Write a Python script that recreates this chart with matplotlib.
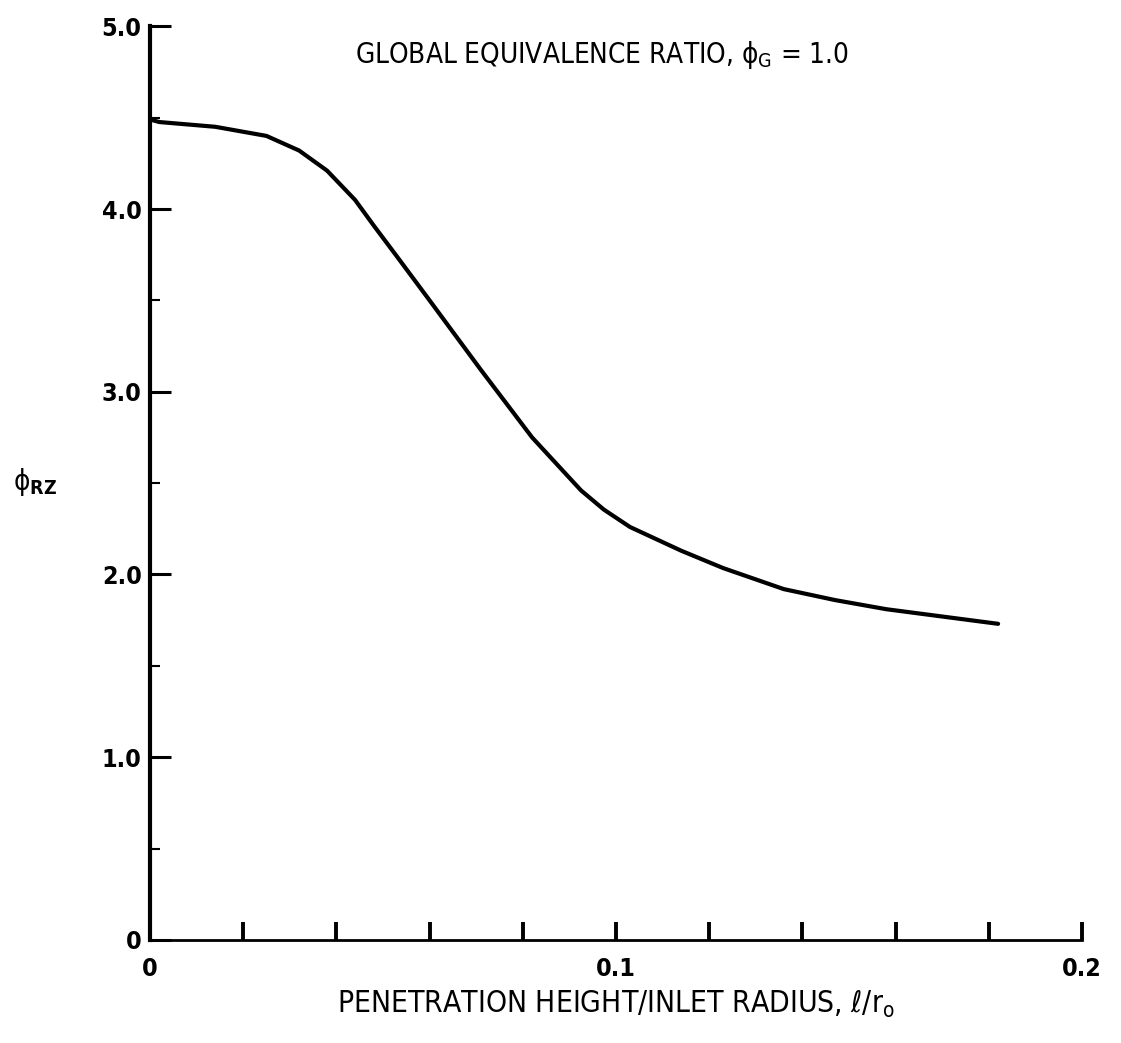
import matplotlib
matplotlib.use("Agg")
import matplotlib.pyplot as plt
from matplotlib.ticker import MultipleLocator, FixedLocator

plt.rcParams['font.family'] = ['DejaVu Sans']
plt.rcParams['font.stretch'] = 'condensed'
plt.rcParams['mathtext.fontset'] = 'dejavusans'

# Data
penetration = [0.0, 0.002, 0.014, 0.025, 0.032, 0.038, 0.044, 0.048, 0.053, 0.060, 0.071,
               0.082, 0.0925, 0.0974, 0.103, 0.114, 0.123, 0.136, 0.147, 0.158, 0.170, 0.182]
phi_rz = [4.49, 4.476, 4.45, 4.40, 4.32, 4.21, 4.05, 3.91, 3.74, 3.50, 3.12,
          2.75, 2.46, 2.355, 2.26, 2.13, 2.035, 1.92, 1.86, 1.81, 1.77, 1.73]

x_major_labels = ["0", "0.1", "0.2"]
y_major_labels = ["0", "1.0", "2.0", "3.0", "4.0", "5.0"]

fig = plt.figure(figsize=(11.21, 10.43), dpi=100)
ax = fig.add_axes([0.1338, 0.0988, 0.8314, 0.876])

ax.plot(penetration, phi_rz, color='black', linewidth=3.0,
        solid_capstyle='round', solid_joinstyle='round')

ax.set_xlim(0, 0.2)
ax.set_ylim(0, 5.0)
for s in ['top', 'right']:
    ax.spines[s].set_visible(False)
ax.spines['left'].set_linewidth(3.0)
ax.spines['bottom'].set_linewidth(2.0)

ax.xaxis.set_major_locator(FixedLocator([0, 0.1, 0.2]))
ax.set_xticklabels(x_major_labels)
ax.xaxis.set_minor_locator(MultipleLocator(0.02))
ax.yaxis.set_major_locator(FixedLocator([0, 1, 2, 3, 4, 5]))
ax.set_yticklabels(y_major_labels)
ax.yaxis.set_minor_locator(MultipleLocator(0.5))

ax.tick_params(axis='x', which='both', direction='in', length=13, width=2.8,
               pad=12, labelsize=18)
ax.tick_params(axis='y', which='major', direction='in', length=15, width=2.2,
               pad=6, labelsize=18)
ax.tick_params(axis='y', which='minor', direction='in', length=7, width=1.5)
for lab in ax.get_xticklabels() + ax.get_yticklabels():
    lab.set_fontweight('bold')

ax.text(0.485, 0.969, "GLOBAL EQUIVALENCE RATIO, \u03d5$_{\\mathrm{G}}$ = 1.0",
        transform=ax.transAxes, ha='center', va='center', fontsize=20)

fig.text(0.549, 0.037, "PENETRATION HEIGHT/INLET RADIUS, \u2113/r$_{\\mathrm{o}}$",
         ha='center', va='center', fontsize=21.5)
fig.text(0.031, 0.538, "\u03d5$_{\\mathbf{RZ}}$", ha='center', va='center', fontsize=20)

fig.savefig("out.png", dpi=100, facecolor='white')
